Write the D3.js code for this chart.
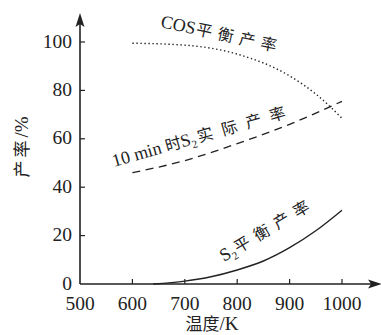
<!DOCTYPE html>
<html>
<head>
<meta charset="utf-8">
<script src="https://cdn.jsdelivr.net/npm/d3@7"></script>
<style>
  body { margin: 0; background: #fff; }
  svg { display: block; }
  text { fill: #222; }
</style>
</head>
<body>
<div class="chart"></div>
<script>
// data
let tempTicks  = [500, 600, 700, 800, 900, 1000];
let yieldTicks = [0, 20, 40, 60, 80, 100];

let cosTemp  = [600, 700, 800, 900, 950, 1000];   // COS equilibrium yield
let cosYield = [99.5, 98.7, 95, 86, 78.5, 68.5];

let actTemp  = [600, 700, 800, 900, 1000];        // S2 actual yield after 10 min
let actYield = [46, 51, 58, 66, 75.5];

let s2Temp  = [640, 700, 750, 800, 850, 900, 950, 1000];  // S2 equilibrium yield
let s2Yield = [0, 1.2, 3, 5.8, 9.5, 15, 22, 30.5];

let width = 381,
    height = 335;

let plot = d3.select('.chart').append('svg')
    .attr('width', width)
    .attr('height', height)
    .attr('viewBox', [0, 0, width, height]);

let x = d3.scaleLinear().domain([500, 1000]).range([80, 342]);
let y = d3.scaleLinear().domain([0, 100]).range([284, 42]);

let ink = '#222';
let serif = '"Liberation Serif", "DejaVu Serif", serif';
let cjk = '"Noto Sans CJK SC", sans-serif';

// axes
plot.append('line')
    .attr('x1', x(500)).attr('y1', y(0))
    .attr('x2', 376).attr('y2', y(0))
    .attr('stroke', ink).attr('stroke-width', 1.6);
plot.append('line')
    .attr('x1', x(500)).attr('y1', y(0))
    .attr('x2', x(500)).attr('y2', 20)
    .attr('stroke', ink).attr('stroke-width', 1.6);

// arrow heads
plot.append('path')
    .attr('d', `M${x(500)},13 L${x(500) - 4.5},27 L${x(500)},24 L${x(500) + 4.5},27 Z`)
    .attr('fill', ink);
plot.append('path')
    .attr('d', `M382,${y(0)} L368,${y(0) - 4.5} L371,${y(0)} L368,${y(0) + 4.5} Z`)
    .attr('fill', ink);

// ticks
plot.append('g').selectAll('line')
    .data(tempTicks.slice(1))
    .join('line')
    .attr('x1', d => x(d)).attr('x2', d => x(d))
    .attr('y1', y(0)).attr('y2', y(0) - 5)
    .attr('stroke', ink).attr('stroke-width', 1.2);

plot.append('g').selectAll('line')
    .data(yieldTicks.slice(1))
    .join('line')
    .attr('x1', x(500)).attr('x2', x(500) + 5)
    .attr('y1', d => y(d)).attr('y2', d => y(d))
    .attr('stroke', ink).attr('stroke-width', 1.2);

// tick labels
plot.append('g').selectAll('text')
    .data(tempTicks)
    .join('text')
    .attr('x', d => x(d))
    .attr('y', 309.5)
    .attr('text-anchor', 'middle')
    .style('font-family', serif)
    .style('font-size', '19.5px')
    .text(d => d);

plot.append('g').selectAll('text')
    .data(yieldTicks)
    .join('text')
    .attr('x', 72)
    .attr('y', d => y(d) + 5.5)
    .attr('text-anchor', 'end')
    .style('font-family', serif)
    .style('font-size', '19.5px')
    .text(d => d);

// axis titles
let xt = plot.append('text')
    .attr('x', 212).attr('y', 330)
    .attr('text-anchor', 'middle')
    .style('font-size', '17px');
xt.append('tspan').style('font-family', cjk).text('温度');
xt.append('tspan').style('font-family', serif).style('font-size', '19px').text('/K');

let yt = plot.append('text')
    .attr('transform', 'translate(28,147) rotate(-90)')
    .attr('text-anchor', 'middle')
    .style('font-size', '17px');
yt.append('tspan').style('font-family', cjk).style('letter-spacing', '3px').text('产率');
yt.append('tspan').style('font-family', serif).style('font-size', '19px').text('/%');

// curves
let line = d3.line()
    .x(d => x(d[0]))
    .y(d => y(d[1]))
    .curve(d3.curveMonotoneX);

plot.append('path')
    .datum(d3.zip(cosTemp, cosYield))
    .attr('d', line)
    .attr('fill', 'none')
    .attr('stroke', ink)
    .attr('stroke-width', 1.4)
    .attr('stroke-dasharray', '1.4,2.6');

plot.append('path')
    .datum(d3.zip(actTemp, actYield))
    .attr('d', line)
    .attr('fill', 'none')
    .attr('stroke', ink)
    .attr('stroke-width', 1.3)
    .attr('stroke-dasharray', '8,5.5');

plot.append('path')
    .datum(d3.zip(s2Temp, s2Yield))
    .attr('d', line)
    .attr('fill', 'none')
    .attr('stroke', ink)
    .attr('stroke-width', 1.4);

// curve labels
let cosLabel = plot.append('text')
    .attr('transform', 'translate(160,27) rotate(12)')
    .style('font-size', '18px');
cosLabel.append('tspan').style('font-family', serif).text('COS');
cosLabel.append('tspan').style('font-family', cjk).style('font-size', '16px')
    .style('letter-spacing', '6px').attr('dx', 1).text('平衡产率');

let actLabel = plot.append('text')
    .attr('transform', 'translate(114,167) rotate(-16)')
    .style('font-size', '18px');
actLabel.append('tspan').style('font-family', serif).text('10 min ');
actLabel.append('tspan').style('font-family', cjk).style('font-size', '16px').text('时');
actLabel.append('tspan').style('font-family', serif).text('S');
actLabel.append('tspan').style('font-family', serif).style('font-size', '11px').attr('dy', 4).text('2');
actLabel.append('tspan').style('font-family', cjk).style('font-size', '16px')
    .style('letter-spacing', '9px').attr('dy', -4).attr('dx', 2).text('实际产率');

let s2Label = plot.append('text')
    .attr('transform', 'translate(224,262) rotate(-31)')
    .style('font-size', '18px');
s2Label.append('tspan').style('font-family', serif).text('S');
s2Label.append('tspan').style('font-family', serif).style('font-size', '11px').attr('dy', 4).text('2');
s2Label.append('tspan').style('font-family', cjk).style('font-size', '16px')
    .style('letter-spacing', '7px').attr('dy', -4).attr('dx', 1).text('平衡产率');
</script>
</body>
</html>
